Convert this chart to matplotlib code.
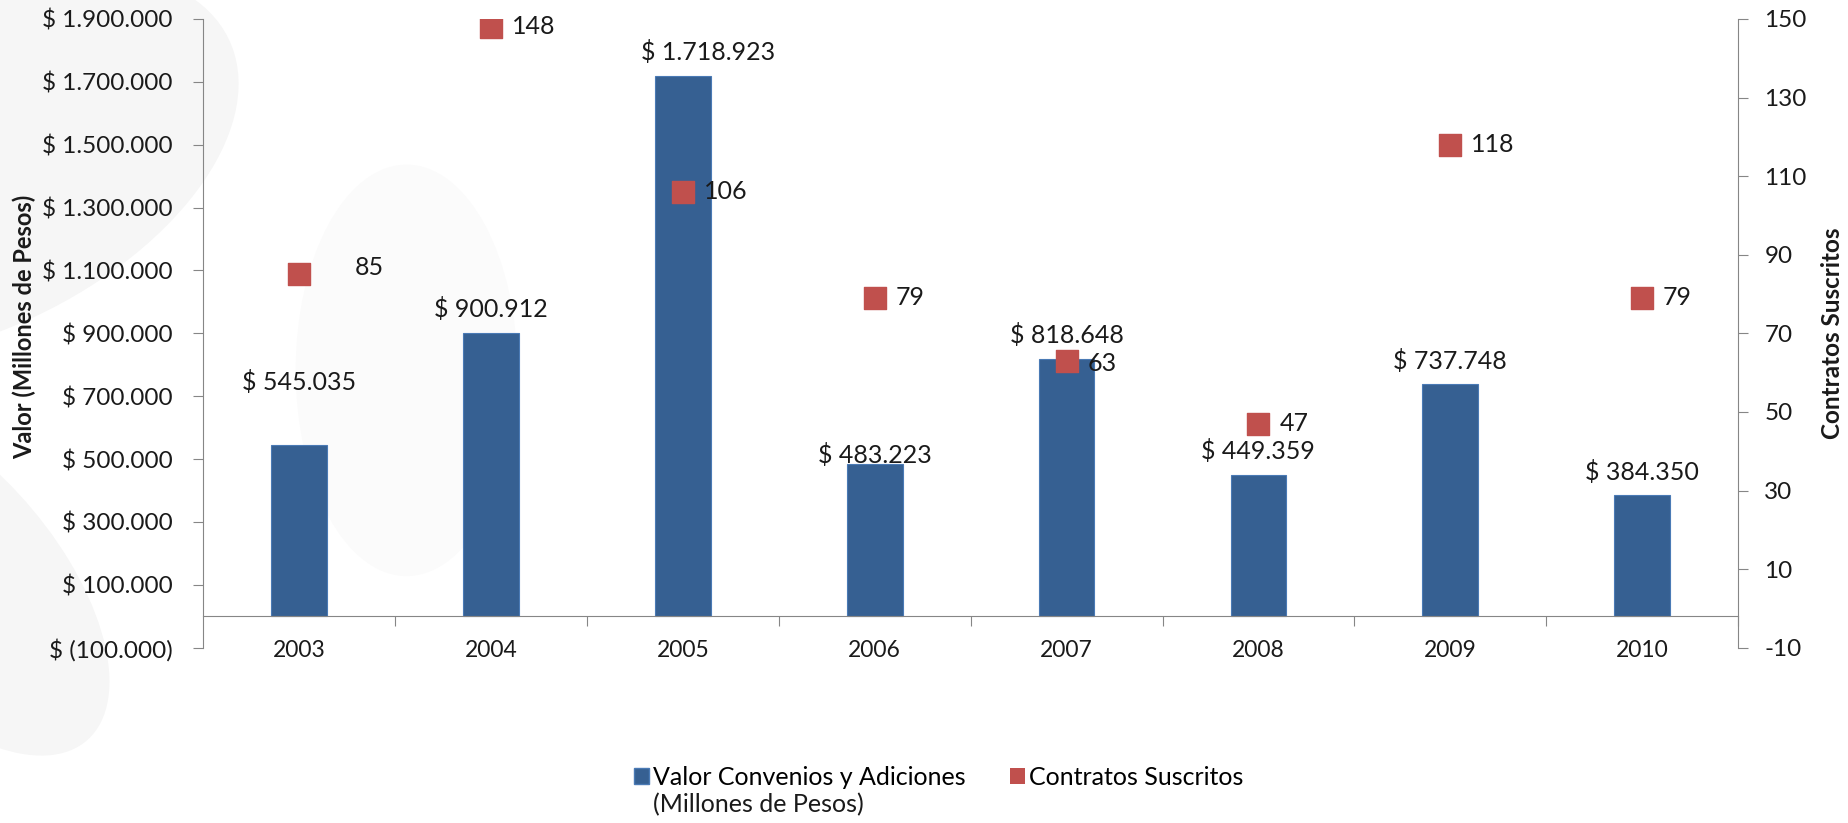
import matplotlib
matplotlib.use('Agg')
import matplotlib.pyplot as plt
from matplotlib.patches import Ellipse, Patch
from matplotlib.ticker import FuncFormatter, FixedLocator

# Data
years = ['2003', '2004', '2005', '2006', '2007', '2008', '2009', '2010']
valor = [545035, 900912, 1718923, 483223, 818648, 449359, 737748, 384350]
contratos = [85, 148, 106, 79, 63, 47, 118, 79]

# Label nudges (points) - some labels were moved by hand in the original
bar_label_dx = [0, 0, 18, 0, 0, 0, 0, 0]
bar_label_dy = [45, 17, 17, 7, 17, 17, 17, 17]
dot_label_dx = [40, 15, 15, 15, 15, 15, 15, 15]
dot_label_dy = [5, 0, 0, 0, -2, 0, 0, 0]

bar_color = '#366092'
dot_color = '#C0504D'
axis_color = '#868686'
text_color = '#1a1a1a'

plt.rcParams['font.family'] = ['Lato', 'DejaVu Sans']
plt.rcParams['axes.unicode_minus'] = False

fig = plt.figure(figsize=(18.48, 8.23), dpi=100)

# faint watermark swooshes in the background
bg = fig.add_axes([0, 0, 1, 1], zorder=-10)
bg.set_xlim(0, 1)
bg.set_ylim(0, 1)
bg.axis('off')
for (cx, cy, w, h, ang, c) in [(-0.02, 0.8, 0.26, 0.5, -20, '#f6f6f6'),
                               (-0.03, 0.3, 0.14, 0.45, 15, '#f6f6f6'),
                               (0.22, 0.55, 0.12, 0.5, 0, '#fbfbfb')]:
    bg.add_patch(Ellipse((cx, cy), w, h, angle=ang, facecolor=c, edgecolor='none'))

ax = fig.add_axes([0.110, 0.213, 0.8305, 0.764])
ax.set_facecolor('none')
ax2 = ax.twinx()

x = list(range(len(years)))
ax.bar(x, valor, width=0.29, color=bar_color, edgecolor='#4a7ab5', linewidth=0.8, zorder=2)
ax2.scatter(x, contratos, marker='s', s=250, color=dot_color, zorder=3)

ax.set_xlim(-0.5, 7.5)
ax.set_ylim(-100000, 1900000)
ax2.set_ylim(-10, 150)


def pesos(v):
    s = f'{abs(int(v)):,}'.replace(',', '.')
    return f'$ ({s})' if v < 0 else f'$ {s}'


ax.yaxis.set_major_locator(FixedLocator(range(-100000, 1900001, 200000)))
ax.yaxis.set_major_formatter(FuncFormatter(lambda v, p: pesos(v)))
ax2.yaxis.set_major_locator(FixedLocator(range(-10, 151, 20)))

# x axis: tick marks between categories, labels centered
ax.xaxis.set_major_locator(FixedLocator([i + 0.5 for i in range(len(years))]))
ax.xaxis.set_major_formatter(FuncFormatter(lambda v, p: ''))
ax.xaxis.set_minor_locator(FixedLocator(x))
ax.set_xticklabels(years, minor=True)
ax.tick_params(axis='x', which='major', direction='out', length=7, color=axis_color)
ax.tick_params(axis='x', which='minor', length=0, pad=17, labelsize=16.5, labelcolor=text_color)

ax.tick_params(axis='y', direction='out', length=7, color=axis_color, pad=15,
               labelsize=17.5, labelcolor=text_color)
ax2.tick_params(axis='y', direction='out', length=7, color=axis_color, pad=12,
                labelsize=17.5, labelcolor=text_color)

for a in (ax, ax2):
    a.spines['top'].set_visible(False)
ax.spines['right'].set_visible(False)
ax2.spines['left'].set_visible(False)
ax2.spines['bottom'].set_visible(False)
ax.spines['left'].set_color(axis_color)
ax.spines['bottom'].set_color(axis_color)
ax.spines['bottom'].set_position(('data', 0))
ax2.spines['right'].set_color(axis_color)

# data labels
for i, v in enumerate(valor):
    ax.annotate(pesos(v), (i, v), xytext=(bar_label_dx[i], bar_label_dy[i]),
                textcoords='offset points', ha='center', va='center', fontsize=18,
                color=text_color, zorder=4)
for i, c in enumerate(contratos):
    ax2.annotate(str(c), (i, c), xytext=(dot_label_dx[i], dot_label_dy[i]),
                 textcoords='offset points', ha='left', va='center', fontsize=18,
                 color=text_color, zorder=4)

ax.set_ylabel('Valor (Millones de Pesos)', fontsize=17, fontweight='bold', color=text_color)
ax.yaxis.set_label_coords(-0.109, 0.51)
ax2.set_ylabel('Contratos Suscritos', fontsize=17.5, fontweight='bold', color=text_color)
ax2.yaxis.set_label_coords(1.054, 0.5)

# legend (second line of the first label is placed under it by hand)
handles = [Patch(facecolor=bar_color, edgecolor='#4a7ab5'), Patch(facecolor=dot_color)]
leg = fig.legend(handles, ['Valor Convenios y Adiciones', 'Contratos Suscritos'],
                 loc='center', bbox_to_anchor=(0.508, 0.055), ncol=2, frameon=False,
                 fontsize=18, handlelength=0.6, handleheight=0.6, handletextpad=0.15,
                 columnspacing=1.8, borderaxespad=0)
fig.canvas.draw()
t0 = leg.get_texts()[0]
bb = t0.get_window_extent().transformed(fig.transFigure.inverted())
fig.text(bb.x0, bb.y0 - 0.004, '(Millones de Pesos)', ha='left', va='top',
         fontsize=18, color=text_color)

fig.savefig('out.png', dpi=100)
